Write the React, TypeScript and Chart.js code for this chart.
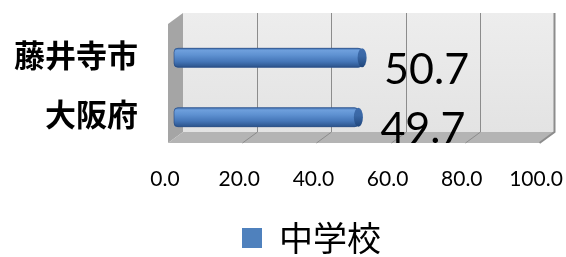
import React, { useEffect, useRef } from 'react';
import { Chart, registerables } from 'chart.js';

Chart.register(...registerables);

const categories = ['藤井寺市', '大阪府'];
const seriesName = '中学校';
const values = [50.7, 49.7];
const tickValues = [0, 20, 40, 60, 80, 100];

const FX = 6; // front plane x offset
const BX = 9; // back plane x offset

const wallsPlugin = {
  id: 'walls3d',
  beforeDatasetsDraw(chart: any) {
    const { ctx, chartArea: a, scales } = chart;
    const xs = scales.x;
    const x0 = xs.getPixelForValue(tickValues[0]);
    const x1 = xs.getPixelForValue(tickValues[tickValues.length - 1]);
    const bTop = a.top - 15, bBot = a.bottom - 15, fTop = a.top - 4, fBot = a.bottom - 4;
    ctx.save();
    const g = ctx.createLinearGradient(0, bTop, 0, bBot);
    g.addColorStop(0, '#ededed');
    g.addColorStop(1, '#e3e3e3');
    ctx.fillStyle = g;
    ctx.fillRect(x0 + BX, bTop, x1 - x0, bBot - bTop);
    // left wall
    ctx.fillStyle = '#a5a5a5';
    ctx.beginPath();
    ctx.moveTo(x0 - FX, fTop);
    ctx.lineTo(x0 + BX, bTop);
    ctx.lineTo(x0 + BX, bBot);
    ctx.lineTo(x0 - FX, fBot);
    ctx.closePath();
    ctx.fill();
    // floor
    ctx.fillStyle = '#b4b4b4';
    ctx.beginPath();
    ctx.moveTo(x0 - FX, fBot);
    ctx.lineTo(x0 + BX, bBot);
    ctx.lineTo(x1 + BX, bBot);
    ctx.lineTo(x1 - FX, fBot);
    ctx.closePath();
    ctx.fill();
    // gridlines
    ctx.strokeStyle = '#8c8c8c';
    tickValues.forEach((v, i) => {
      if (i === 0) return;
      const px = Math.round(xs.getPixelForValue(v)) + 0.5;
      ctx.lineWidth = i === tickValues.length - 1 ? 2 : 1;
      ctx.beginPath();
      ctx.moveTo(px + BX, bTop);
      ctx.lineTo(px + BX, bBot);
      ctx.lineTo(px - FX, fBot);
      ctx.stroke();
    });
    ctx.restore();
  },
};

const barStylePlugin = {
  id: 'barStyle',
  afterDatasetsDraw(chart: any) {
    const { ctx } = chart;
    const meta = chart.getDatasetMeta(0);
    meta.data.forEach((el: any, i: number) => {
      const { x, y, base, height } = el.getProps(['x', 'y', 'base', 'height'], true);
      const left = Math.min(x, base);
      const w = Math.abs(x - base);
      const t = y - height / 2;
      ctx.save();
      // body
      const g = ctx.createLinearGradient(0, t, 0, t + height);
      g.addColorStop(0, '#4474b4');
      g.addColorStop(0.12, '#6e9fdc');
      g.addColorStop(0.35, '#5f92d2');
      g.addColorStop(0.7, '#4576b8');
      g.addColorStop(1, '#2b538b');
      ctx.beginPath();
      ctx.roundRect(left, t, w, height, 4);
      ctx.fillStyle = g;
      ctx.fill();
      ctx.strokeStyle = 'rgba(40,70,120,0.6)';
      ctx.lineWidth = 1;
      ctx.stroke();
      // end cap
      const rx = 4.5;
      const cg = ctx.createLinearGradient(0, t, 0, t + height);
      cg.addColorStop(0, '#3f6cab');
      cg.addColorStop(0.4, '#3a68a6');
      cg.addColorStop(1, '#20467c');
      ctx.beginPath();
      ctx.ellipse(x, y, rx, height / 2, 0, 0, Math.PI * 2);
      ctx.fillStyle = cg;
      ctx.fill();
      ctx.restore();
      // value label
      ctx.save();
      ctx.font = '43px Lato';
      ctx.fillStyle = '#000';
      ctx.textAlign = 'left';
      ctx.textBaseline = 'alphabetic';
      ctx.fillText(values[i].toFixed(1), x + 22, y + 26);
      ctx.restore();
    });
  },
};

const legendShiftPlugin = {
  id: 'legendShift',
  afterLayout(chart: any) {
    const l = chart.legend;
    if (l) {
      l.left += 39;
      l.right += 39;
    }
  },
};

const AXIS_LEFT = 174;

export default function App() {
  const ref = useRef<HTMLCanvasElement>(null);
  useEffect(() => {
    document.body.style.margin = '0';
    const chart = new Chart(ref.current as HTMLCanvasElement, {
      type: 'bar',
      data: {
        labels: categories,
        datasets: [
          {
            label: seriesName,
            data: values,
            backgroundColor: '#4F81BD',
            borderColor: '#385D8A',
            borderWidth: 0,
            borderRadius: 4,
            borderSkipped: false,
            barThickness: 19,
          },
        ],
      },
      options: {
        indexAxis: 'y',
        animation: false,
        responsive: false,
        layout: { padding: { top: 28, right: 21, left: 0, bottom: -8 } },
        scales: {
          x: {
            min: tickValues[0],
            max: tickValues[tickValues.length - 1],
            afterBuildTicks: (s: any) => {
              s.ticks = tickValues.map((v) => ({ value: v }));
            },
            ticks: {
              callback: (v: any) => Number(v).toFixed(1),
              font: { family: 'Lato', size: 21 },
              color: '#000',
              padding: 20,
              labelOffset: -9,
              maxRotation: 0,
              autoSkip: false,
            },
            grid: { display: false, drawTicks: false },
            border: { display: false },
            afterFit: (s: any) => {
              s.height = 64;
              s.paddingLeft = 0;
              s.paddingRight = 0;
            },
          },
          y: {
            ticks: {
              font: { family: 'Noto Sans CJK JP', size: 31, weight: 'bold' },
              color: '#000',
              padding: 36,
              labelOffset: -3,
            },
            grid: { display: false, drawTicks: false },
            border: { display: false },
            afterFit: (s: any) => {
              s.width = AXIS_LEFT;
              s.paddingTop = 0;
              s.paddingBottom = 0;
            },
          },
        },
        plugins: {
          legend: {
            position: 'bottom',
            labels: {
              boxWidth: 20,
              boxHeight: 20,
              color: '#000',
              padding: 10,
              font: { family: 'Noto Sans CJK JP', size: 34 },
            },
          },
          tooltip: { enabled: false },
        },
      },
      plugins: [wallsPlugin, barStylePlugin, legendShiftPlugin],
    });
    return () => chart.destroy();
  }, []);
  return (
    <canvas ref={ref} width={566} height={257} style={{ display: 'block', width: 566, height: 257 }} />
  );
}
